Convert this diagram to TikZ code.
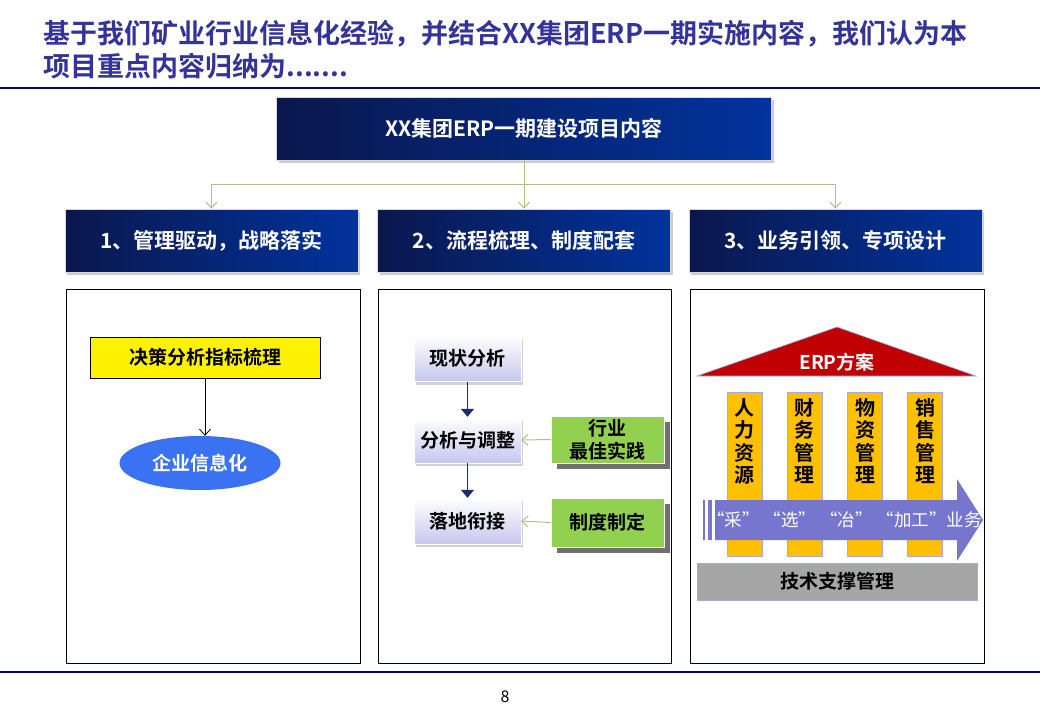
\documentclass[tikz,border=0pt]{standalone}
\usepackage{fontspec}
\setmainfont{Noto Sans CJK SC}[BoldFont={* Bold}]
\usetikzlibrary{arrows.meta, shapes.geometric, shadows}

\definecolor{titleblue}{HTML}{333399}
\definecolor{rulenavy}{HTML}{000080}
\definecolor{bannerleft}{HTML}{0A174E}
\definecolor{bannerright}{HTML}{00339C}
\definecolor{linkolive}{HTML}{B3BF8A}
\definecolor{ovalblue}{HTML}{3A72F2}
\definecolor{lavender}{HTML}{C6C6EE}
\definecolor{arrownavy}{HTML}{1C2C6C}
\definecolor{bestgreen}{HTML}{92D050}
\definecolor{roofred}{HTML}{C00000}
\definecolor{pillarorange}{HTML}{FFC000}
\definecolor{pillaredge}{HTML}{A8A8E6}
\definecolor{flowpurple}{HTML}{7676CE}
\definecolor{basegray}{HTML}{A6A6A6}

\begin{document}
\begin{tikzpicture}[x=1pt, y=-1pt,
    every node/.style={font=\bfseries\fontsize{19}{23}\selectfont},
    banner/.style={draw=white!85!black, line width=0.5pt, left color=bannerleft,
      right color=bannerright, text=white, minimum height=63pt, inner sep=0pt,
      font=\bfseries\fontsize{21}{24}\selectfont,
      drop shadow={shadow xshift=2pt, shadow yshift=-3pt, fill=black!40, opacity=0.5}},
    panel/.style={draw=black, line width=0.9pt, minimum width=294pt, minimum height=374pt},
    stepbox/.style={draw=white, top color=white, bottom color=lavender,
      minimum width=107pt, minimum height=46pt, inner sep=0pt,
      drop shadow={shadow xshift=2pt, shadow yshift=-3pt, fill=black!40, opacity=0.45}},
    greenbox/.style={draw=white, fill=bestgreen, minimum width=113pt, align=center, inner sep=0pt,
      drop shadow={shadow xshift=6pt, shadow yshift=-6pt, fill=black!70, opacity=0.8}},
    pillar/.style={draw=pillaredge, line width=0.6pt, fill=pillarorange,
      minimum width=35pt, minimum height=164pt, inner sep=0pt},
    link/.style={draw=linkolive, line width=1pt, -{Straight Barb[length=6pt,width=11pt]}},
    flowlink/.style={draw=arrownavy, line width=1.2pt, -{Triangle[length=8pt,width=13pt]}}
  ]
  \useasboundingbox (0,0) rectangle (1040,720);

  % heading and page rules
  \node[anchor=west, text=titleblue, font=\bfseries\fontsize{27}{30}\selectfont] (title1) at (40,34)
    {基于我们矿业行业信息化经验，并结合XX集团ERP一期实施内容，我们认为本};
  \node[anchor=west, text=titleblue, font=\bfseries\fontsize{27}{30}\selectfont] (title2) at (40,66)
    {项目重点内容归纳为.......};
  \draw[rulenavy, line width=2.5pt] (0,88) -- (1040,88);
  \draw[rulenavy, line width=1.5pt] (0,672) -- (1040,672);
  \node[font=\fontsize{16}{18}\selectfont] (page) at (505,697) {8};

  % banners
  \node[banner, minimum width=495pt] (top) at (524,128.5) {XX集团ERP一期建设项目内容};
  \node[banner, minimum width=293pt] (h1) at (211.5,240.5) {1、管理驱动，战略落实};
  \node[banner, minimum width=293pt] (h2) at (524,240.5) {2、流程梳理、制度配套};
  \node[banner, minimum width=293pt] (h3) at (835.5,240.5) {3、业务引领、专项设计};

  \coordinate (bus) at (524,184);
  \draw[link] (top.south) -- (h2.north);
  \draw[linkolive, line width=1pt] (h1.north |- bus) -- (h3.north |- bus);
  \draw[link] (h1.north |- bus) -- (h1.north);
  \draw[link] (h3.north |- bus) -- (h3.north);

  % panels
  \node[panel] (p1) at (213,476) {};
  \node[panel, minimum width=293pt] (p2) at (524.5,476) {};
  \node[panel] (p3) at (837,476) {};

  % panel 1
  \node[draw=black, line width=0.9pt, fill=yellow, minimum width=230pt, minimum height=41pt] (metric)
    at (205,357.5) {决策分析指标梳理};
  \node[ellipse, fill=ovalblue, text=white, minimum width=161pt, minimum height=54pt, inner sep=0pt] (erpinfo)
    at (200,463) {企业信息化};
  \draw[black, line width=0.8pt, -{Straight Barb[length=6pt,width=11pt]}] (metric.south) -- (metric.south |- erpinfo.north);

  % panel 2
  \node[stepbox] (now) at (467.5,358.5) {现状分析};
  \node[stepbox] (adjust) at (467.5,440) {分析与调整};
  \node[stepbox] (land) at (467.5,521) {落地衔接};
  \node[greenbox, minimum height=47pt] (best) at (607.5,439.5) {行业\\最佳实践};
  \node[greenbox, minimum height=49pt] (rule) at (607.5,522.5) {制度制定};
  \draw[flowlink] (now.south) -- (adjust.north);
  \draw[flowlink] (adjust.south) -- (land.north);
  \draw[link] (best.west) -- (adjust.east);
  \draw[link] (rule.west) -- (land.east);

  % panel 3
  \filldraw[fill=roofred, draw=pillaredge, line width=0.6pt] (697,376) -- (837,327) -- (976,376) -- cycle;
  \node[text=white] (erpplan) at (837,362) {ERP方案};
  \foreach \x/\name/\txt in {744.5/hr/{人\\力\\资\\源}, 804.5/fin/{财\\务\\管\\理},
                             865/mat/{物\\资\\管\\理}, 925/sale/{销\\售\\管\\理}} {
    \node[pillar] (\name) at (\x,474) {};
    \node[anchor=north, align=center, font=\bfseries\fontsize{20}{22.5}\selectfont] (\name text)
      at ([yshift=-3pt]\name.north) {\txt};
  }
  \fill[flowpurple] (715,500) -- (957,500) -- (957,479) -- (983,520) -- (957,561) -- (957,540) -- (715,540) -- cycle;
  \fill[flowpurple] (703,500) rectangle (705,540);
  \fill[flowpurple] (708,500) rectangle (712,540);
  \node[anchor=west, text=white, inner sep=0pt, font=\fontsize{17.5}{20}\selectfont] (flowtext) at (707,520)
    {“采”\hspace{4pt}“选”\hspace{4pt}“冶”\hspace{4pt}“加工”业务};
  \node[fill=basegray, draw=pillaredge, line width=0.6pt, minimum width=280pt, minimum height=37pt] (tech)
    at (837,581.5) {技术支撑管理};
\end{tikzpicture}
\end{document}
